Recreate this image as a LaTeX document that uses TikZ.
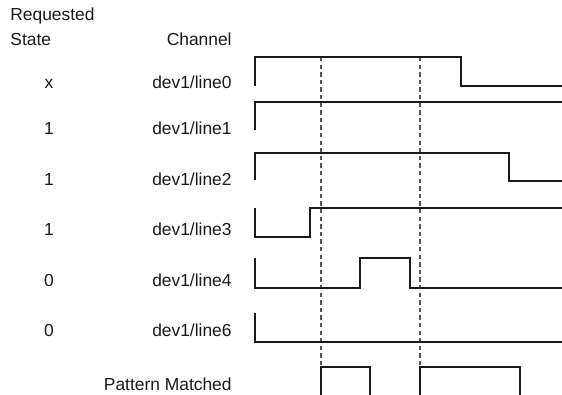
\documentclass[tikz,border=0pt]{standalone}
\usepackage{fontspec}
\setmainfont{Liberation Sans}
\usepackage{xcolor}
\usetikzlibrary{positioning}
\definecolor{ink}{HTML}{1A1A1A}
\definecolor{guidegray}{HTML}{555555}
\tikzset{
  lbl/.style={font=\fontsize{8.7pt}{10pt}\selectfont, inner sep=0pt, text=ink},
  state/.style={lbl, anchor=base},
  chan/.style={lbl, anchor=base east},
  sig/.style={draw=ink, line width=0.55pt, line join=miter},
  guide/.style={draw=guidegray, line width=0.55pt, dash pattern=on 2.2pt off 1.6pt},
}
% one row per channel: baseline y / requested state / line name
\newcommand{\chans}[1]{%
  \foreach \y/\st/\name in {#1} {%
    \node[state] (st-\name) at (49,\y) {\st};
    \node[chan] (ch-\name) at (232,\y) {dev1/\name};
  }}

\begin{document}
\begin{tikzpicture}[x=0.5pt,y=-0.5pt]
  \useasboundingbox (0,0) rectangle (562,395);
  % headings
  \node[lbl, anchor=base west] (req) at (10,21) {Requested};
  \node[lbl, anchor=base west] (reqstate) at (10,46) {State};
  \node[chan] (chead) at (232,46) {Channel};
  \chans{89/x/line0, 135/1/line1, 186/1/line2, 235/1/line3, 286/0/line4, 336/0/line6}
  \node[chan] (pm) at (232,390) {Pattern Matched};
  % sample instants
  \draw[guide] (321,57) -- (321,367);
  \draw[guide] (420,57) -- (420,367);
  % waveforms
  \draw[sig] (255,86) -- (255,57) -- (461,57) -- (461,86) -- (562,86);
  \draw[sig] (255,130) -- (255,102) -- (562,102);
  \draw[sig] (255,180) -- (255,153) -- (509,153) -- (509,181) -- (562,181);
  \draw[sig] (255,208) -- (255,237) -- (310,237) -- (310,208) -- (562,208);
  \draw[sig] (255,258) -- (255,288) -- (360,288) -- (360,258) -- (410,258) -- (410,288) -- (562,288);
  \draw[sig] (255,313) -- (255,342) -- (562,342);
  % matches
  \draw[sig] (321,395) -- (321,367) -- (370,367) -- (370,395);
  \draw[sig] (420,395) -- (420,367) -- (520,367) -- (520,395);
\end{tikzpicture}
\end{document}
